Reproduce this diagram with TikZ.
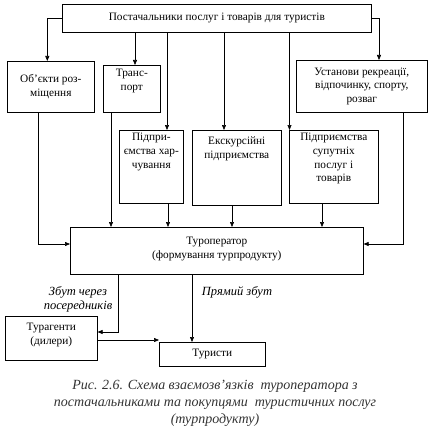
\documentclass[tikz,border=0pt]{standalone}
\usepackage{fontspec}
\setmainfont{Liberation Serif}
\usetikzlibrary{arrows.meta,calc}
\begin{document}
\begin{tikzpicture}[x=1pt,y=-1pt,
  box/.style={draw,line width=0.6pt,inner sep=0pt,anchor=north west},
  txt/.style={align=center,font=\fontsize{11.3}{13.7}\selectfont,inner sep=0pt},
  lab/.style={align=center,font=\fontsize{12.5}{14}\selectfont\itshape,inner sep=0pt},
  arr/.style={line width=0.6pt,-{Triangle[length=5pt,width=4pt]}},
  ln/.style={line width=0.6pt}]
\useasboundingbox (0,0) rectangle (431,436);
% boxes
\node[box,minimum width=309pt,minimum height=28pt] (top) at (62,4) {};
\node[txt] (ttop) at (top.center) {Постачальники послуг і товарів для туристів};
\node[box,minimum width=87pt,minimum height=51pt] (obj) at (7,61) {};
\node[txt] (tobj) at (obj.center) {Об’єкти роз-\\міщення};
\node[box,minimum width=57pt,minimum height=47pt] (trans) at (103,65) {};
\node[txt,anchor=north] (ttrans) at ([yshift=-4pt]trans.north) {Транс-\\порт};
\node[box,minimum width=131pt,minimum height=52pt] (ust) at (296,60) {};
\node[txt] (tust) at (ust.center) {Установи рекреації,\\відпочинку, спорту,\\розваг};
\node[box,minimum width=64pt,minimum height=73pt] (harch) at (119,130) {};
\node[txt,anchor=north] (tharch) at ([yshift=-3pt]harch.north) {Підпри-\\ємства хар-\\чування};
\node[box,minimum width=89pt,minimum height=75pt] (eksk) at (192,130) {};
\node[txt,anchor=north] (teksk) at ([yshift=-7pt]eksk.north) {Екскурсійні\\підприємства};
\node[box,minimum width=89pt,minimum height=73pt] (sup) at (289,130) {};
\node[txt,anchor=north] (tsup) at ([yshift=-3pt]sup.north) {Підприємства\\супутніх\\послуг і\\товарів};
\node[box,minimum width=293pt,minimum height=47pt] (tour) at (70,227) {};
\node[txt] (ttour) at ([yshift=2pt]tour.center) {Туроператор\\(формування турпродукту)};
\node[box,minimum width=92pt,minimum height=44pt] (agent) at (5,316) {};
\node[txt] (tagent) at ([yshift=3pt]agent.center) {Турагенти\\(дилери)};
\node[box,minimum width=106pt,minimum height=24pt] (tur) at (159,342) {};
\node[txt] (ttur) at (tur.center) {Туристи};
% connectors
\draw[arr] (top.west) -| ([xshift=-3.5pt]obj.north);
\draw[arr] (top.south -| 135,0) -- (trans.north -| 135,0);
\draw[arr] (top.south -| 167,0) -- (harch.north -| 167,0);
\draw[arr] (top.south -| 224,0) -- (eksk.north -| 224,0);
\draw[arr] (top.south -| 289.5,0) -- (sup.north -| 289.5,0);
\draw[arr] (top.east) -| (ust.north -| 379,0);
\draw[arr] (obj.south -| 38,0) |- (tour.west |- 0,244);
\draw[arr] (trans.south -| 111,0) -- (tour.north -| 111,0);
\draw[arr] (harch.south -| 168,0) -- (tour.north -| 168,0);
\draw[arr] (eksk.south -| 232,0) -- (tour.north -| 232,0);
\draw[arr] (sup.south -| 322,0) -- (tour.north -| 322,0);
\draw[arr] (ust.south -| 403,0) |- (tour.east |- 0,244);
\draw[arr] (tour.south -| 118,0) |- (agent.east |- 0,332);
\draw[arr] (tour.south -| 192,0) -- (tur.north -| 192,0);
\draw[arr] (agent.east |- 0,340) -- (tur.west |- 0,340);
% labels
\node[lab] (l1) at (78,299) {Збут через\\посередників};
\node[lab] (l2) at (237,292) {Прямий збут};
\node[lab,font=\fontsize{14}{17}\selectfont\itshape,text=black!80] (cap) at (215,403) {Рис. 2.6. Схема взаємозв'язків\ \ туроператора з\\постачальниками та покупцями\ \ туристичних послуг\\(турпродукту)};
\end{tikzpicture}
\end{document}
